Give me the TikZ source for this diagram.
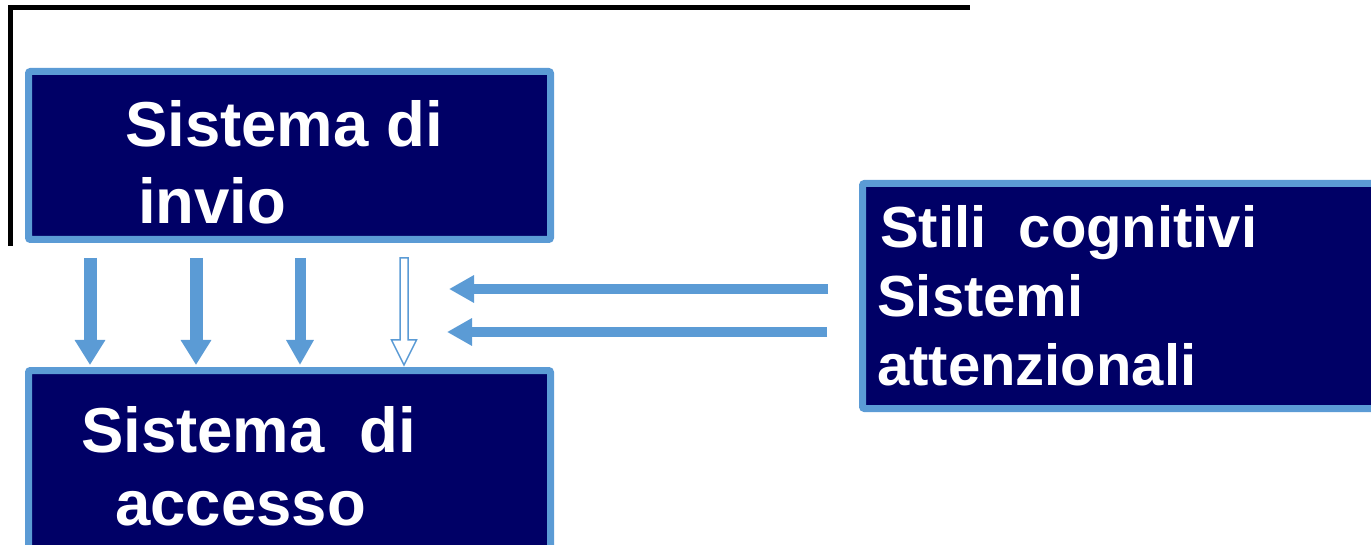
\documentclass[tikz,border=0pt]{standalone}
\usepackage{fontspec}
\setmainfont{Liberation Sans}
\usetikzlibrary{arrows.meta}
\definecolor{navy}{RGB}{0,0,102}
\definecolor{lblue}{RGB}{91,155,213}
\begin{document}
\begin{tikzpicture}[x=1pt,y=-1pt,
  box/.style={draw=lblue,fill=navy,line width=7pt,rounded corners=2pt,inner sep=0pt},
  lbl/.style={anchor=base west,inner sep=0pt,text=white,font=\fontsize{63.5}{63}\selectfont\bfseries},
  lbls/.style={anchor=base west,inner sep=0pt,text=white,font=\fontsize{58}{58}\selectfont\bfseries},
  sidearr/.style={lblue,line width=10pt,-{Triangle[length=25pt,width=26pt]}}]
\useasboundingbox (0,0) rectangle (1371,545);
\clip (0,0) rectangle (1371,545);
% frame line
\coordinate (fa) at (10,246);
\coordinate (fb) at (10,8);
\coordinate (fc) at (970,8);
\draw[black,line width=5pt] (fa) -- (fb) -- (fc);
% boxes
\node[box,minimum width=522pt,minimum height=168pt] (invio) at (289.5,155.5) {};
\node[box,minimum width=522pt,minimum height=190pt] (accesso) at (289.5,465.5) {};
\node[box,minimum width=523pt,minimum height=225pt] (stili) at (1124,296) {};
% texts
\node[lbl] (t1) at (125,147) {Sistema di};
\node[lbl] (t2) at (138,224) {invio};
\node[lbl] (t3) at (81,452) {Sistema\ \ di};
\node[lbl] (t4) at (115,525) {accesso};
\node[lbls] (t5) at (880,248) {Stili\ \ cognitivi};
\node[lbls] (t6) at (877,317) {Sistemi};
\node[lbls] (t7) at (877,385) {attenzionali};
% down arrows
\coordinate (d1) at (90,258);  \coordinate (d1e) at (90,365);
\coordinate (d2) at (196,258); \coordinate (d2e) at (196,365);
\coordinate (d3) at (300,258); \coordinate (d3e) at (300,365);
\coordinate (d4) at (404,258); \coordinate (d4e) at (404,365);
\draw[lblue,line width=13pt,-{Triangle[length=25pt,width=29pt]}] (d1) -- (d1e);
\draw[lblue,line width=13pt,-{Triangle[length=25pt,width=29pt]}] (d2) -- (d2e);
\draw[lblue,line width=11pt,-{Triangle[length=25pt,width=26pt]}] (d3) -- (d3e);
\draw[lblue,line width=1.5pt,fill=white,line join=miter]
  ([xshift=-4pt]d4) -- ++(0,82) -- ++(-8.5,0) -- (d4e) -- ++(12.5,-25) -- ++(-8.5,0) -- ++(0,-82) -- cycle;
% side arrows
\coordinate (h1) at (828,289); \coordinate (h1e) at (449,289);
\coordinate (h2) at (827,332); \coordinate (h2e) at (447,332);
\draw[sidearr] (h1) -- (h1e);
\draw[sidearr] (h2) -- (h2e);
\end{tikzpicture}
\end{document}
